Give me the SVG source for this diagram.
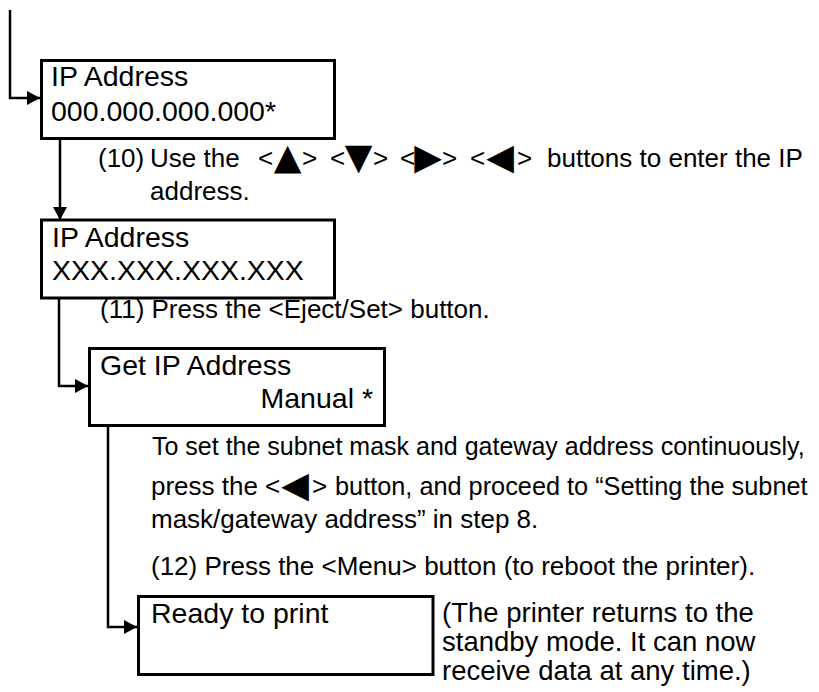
<svg xmlns="http://www.w3.org/2000/svg" width="819" height="692" viewBox="0 0 819 692">
<defs>
<marker id="ah" markerUnits="userSpaceOnUse" markerWidth="13" markerHeight="14" refX="13" refY="7" orient="auto">
<path d="M0,0 L13,7 L0,14 z" fill="#000"/>
</marker>
<style>
.box{fill:#fff;stroke:#000;stroke-width:3}
.bt{font-family:"Liberation Sans",Arial,sans-serif;font-size:28.5px;fill:#000}
.tx{font-family:"Liberation Sans",Arial,sans-serif;font-size:26px;fill:#000}
.sd{font-family:"Liberation Sans",Arial,sans-serif;font-size:27.5px;fill:#000}
.sym{font-family:"DejaVu Sans",sans-serif;font-size:36px;fill:#000;text-anchor:middle}
.con{fill:none;stroke:#000;stroke-width:2.5}
</style>
</defs>
<rect width="819" height="692" fill="#fff"/>
<g id="connectors">
<path class="con" d="M10,10 V98 H40" marker-end="url(#ah)"/>
<path class="con" d="M60,140 V220" marker-end="url(#ah)"/>
<path class="con" d="M59,299 V386 H88" marker-end="url(#ah)"/>
<path class="con" d="M108,427 V627 H137" marker-end="url(#ah)"/>
</g>
<g id="node-ip-initial">
<rect class="box" x="41.5" y="60.5" width="293" height="78"/>
<text class="bt" x="51" y="86">IP Address</text>
<text class="bt" x="51" y="121">000.000.000.000*</text>
</g>
<g id="step10">
<text class="tx" y="167"><tspan x="98">(10)</tspan><tspan x="150">Use the</tspan><tspan x="258">&lt;</tspan><tspan x="302">&gt;</tspan><tspan x="330">&lt;</tspan><tspan x="373">&gt;</tspan><tspan x="400">&lt;</tspan><tspan x="442">&gt;</tspan><tspan x="470">&lt;</tspan><tspan x="517">&gt;</tspan><tspan x="547">buttons to enter the IP</tspan></text>
<text class="sym" y="169"><tspan x="287.5">▲</tspan><tspan x="358.5">▼</tspan><tspan x="428">▶</tspan><tspan x="500">◀</tspan></text>
<text class="tx" x="150" y="200">address.</text>
</g>
<g id="node-ip-entered">
<rect class="box" x="41.5" y="220" width="293" height="78"/>
<text class="bt" x="52" y="247">IP Address</text>
<text class="bt" x="52" y="280">XXX.XXX.XXX.XXX</text>
</g>
<g id="step11">
<text class="tx" x="100" y="318">(11) Press the &lt;Eject/Set&gt; button.</text>
</g>
<g id="node-get-ip">
<rect class="box" x="89.5" y="348.5" width="295" height="77"/>
<text class="bt" x="100" y="375">Get IP Address</text>
<text class="bt" x="373" y="408" text-anchor="end">Manual *</text>
</g>
<g id="note">
<text class="tx" x="152" y="455" style="font-size:25px">To set the subnet mask and gateway address continuously,</text>
<text class="tx" y="495"><tspan x="151">press the</tspan><tspan x="265">&lt;</tspan><tspan x="312">&gt;</tspan></text>
<text class="tx" x="335" y="495" style="font-size:25.3px">button, and proceed to “Setting the subnet</text>
<text class="sym" x="295" y="497">◀</text>
<text class="tx" x="151" y="528">mask/gateway address” in step 8.</text>
</g>
<g id="step12">
<text class="tx" x="151" y="575">(12) Press the &lt;Menu&gt; button (to reboot the printer).</text>
</g>
<g id="node-ready">
<rect class="box" x="138.5" y="596.5" width="294.5" height="78"/>
<text class="bt" x="151" y="623">Ready to print</text>
</g>
<g id="side-note">
<text class="sd" x="442" y="622">(The printer returns to the</text>
<text class="sd" x="442" y="651">standby mode. It can now</text>
<text class="sd" x="442" y="680">receive data at any time.)</text>
</g>
</svg>
